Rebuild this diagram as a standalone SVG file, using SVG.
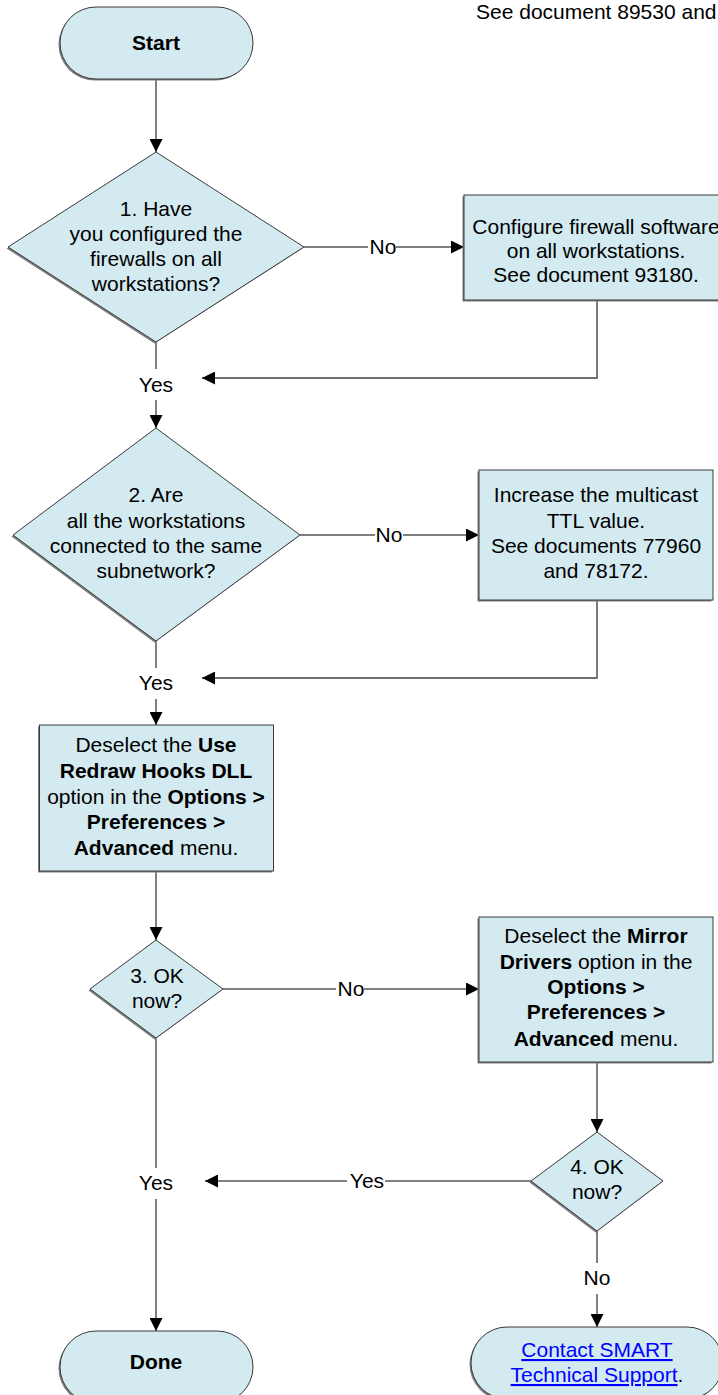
<svg xmlns="http://www.w3.org/2000/svg" width="718" height="1395" viewBox="0 0 718 1395">
<style>
text{font-family:"Liberation Sans",Arial,Helvetica,sans-serif;font-size:21px;fill:#000;text-anchor:middle}
.b{font-weight:bold}
.shape{fill:#D3EAF0;stroke:#3a3a3a;stroke-width:1}
.sh{fill:#7f7f7f;stroke:none}
.ln{fill:none;stroke:#000;stroke-width:1}
.ret{fill:none;stroke:#6f6f6f;stroke-width:1.8}
.gap{fill:#fff;stroke:none}
.link{fill:#0000ff;text-decoration:underline}
</style>
<defs>
<marker id="ah" markerWidth="13" markerHeight="13" refX="13" refY="6.5" orient="auto" markerUnits="userSpaceOnUse">
<path d="M0,0 L13,6.5 L0,13 z" fill="#000"/>
</marker>
</defs>

<text x="476" y="19" style="text-anchor:start">See document 89530 and</text>

<g id="connectors">
<path class="ln" d="M156,79 V152" marker-end="url(#ah)"/>
<path class="ln" d="M304,247 H464" marker-end="url(#ah)"/>
<path class="ret" d="M597,300 V378 H202" marker-end="url(#ah)"/>
<path class="ln" d="M156,342 V428" marker-end="url(#ah)"/>
<path class="ln" d="M300,535 H479" marker-end="url(#ah)"/>
<path class="ret" d="M597,600 V678 H202" marker-end="url(#ah)"/>
<path class="ln" d="M156,641 V725" marker-end="url(#ah)"/>
<path class="ln" d="M156,871 V940" marker-end="url(#ah)"/>
<path class="ln" d="M223,989 H479" marker-end="url(#ah)"/>
<path class="ln" d="M597,1062 V1132" marker-end="url(#ah)"/>
<path class="ln" d="M531,1181 H205" marker-end="url(#ah)"/>
<path class="ln" d="M156,1038 V1331" marker-end="url(#ah)"/>
<path class="ln" d="M597,1231 V1327" marker-end="url(#ah)"/>
<rect class="gap" x="368" y="237" width="28" height="20"/>
<text x="383" y="254">No</text>
<rect class="gap" x="375" y="525" width="28" height="20"/>
<text x="389" y="542">No</text>
<rect class="gap" x="336" y="979" width="28" height="20"/>
<text x="351" y="996">No</text>
<rect class="gap" x="347" y="1171" width="38" height="20"/>
<text x="367" y="1188">Yes</text>
<rect class="gap" x="136" y="369" width="40" height="31"/>
<text x="156" y="392">Yes</text>
<rect class="gap" x="136" y="668" width="40" height="31"/>
<text x="156" y="690">Yes</text>
<rect class="gap" x="136" y="1168" width="40" height="31"/>
<text x="156" y="1190">Yes</text>
<rect class="gap" x="580" y="1263" width="34" height="31"/>
<text x="597" y="1285">No</text>
</g>

<g id="start">
<rect class="sh" x="58.5" y="8.5" width="193" height="72" rx="36"/>
<rect class="shape" x="60" y="7" width="193" height="72" rx="36"/>
<text class="b" x="156" y="50">Start</text>
</g>

<g id="q1">
<polygon class="sh" points="154.5,153.5 302.5,248.5 154.5,343.5 6.5,248.5"/>
<polygon class="shape" points="156,152 304,247 156,342 8,247"/>
<text x="156" y="216">1. Have</text>
<text x="156" y="241">you configured the</text>
<text x="156" y="266">firewalls on all</text>
<text x="156" y="291">workstations?</text>
</g>

<g id="fw">
<rect class="sh" x="462.5" y="196.5" width="264" height="105"/>
<rect class="shape" x="464" y="195" width="264" height="105"/>
<text x="596" y="234">Configure firewall software</text>
<text x="596" y="258">on all workstations.</text>
<text x="596" y="282">See document 93180.</text>
</g>

<g id="q2">
<polygon class="sh" points="154.5,429.5 298.5,536.5 154.5,642.5 11.5,536.5"/>
<polygon class="shape" points="156,428 300,535 156,641 13,535"/>
<text x="156" y="502">2. Are</text>
<text x="156" y="528">all the workstations</text>
<text x="156" y="553">connected to the same</text>
<text x="156" y="578">subnetwork?</text>
</g>

<g id="ttl">
<rect class="sh" x="477.5" y="471.5" width="234" height="130"/>
<rect class="shape" x="479" y="470" width="234" height="130"/>
<text x="596" y="502">Increase the multicast</text>
<text x="596" y="528">TTL value.</text>
<text x="596" y="553">See documents 77960</text>
<text x="596" y="578">and 78172.</text>
</g>

<g id="hooks">
<rect class="sh" x="38" y="726.5" width="234" height="146"/>
<rect class="shape" x="39.5" y="725" width="234" height="146"/>
<text x="156" y="752">Deselect the <tspan class="b">Use</tspan></text>
<text x="156" y="778" class="b">Redraw Hooks DLL</text>
<text x="156" y="804">option in the <tspan class="b">Options &gt;</tspan></text>
<text x="156" y="829" class="b">Preferences &gt;</text>
<text x="156" y="855"><tspan class="b">Advanced</tspan> menu.</text>
</g>

<g id="q3">
<polygon class="sh" points="154.5,941.5 221.5,990.5 154.5,1039.5 88.5,990.5"/>
<polygon class="shape" points="156,940 223,989 156,1038 90,989"/>
<text x="157" y="983">3. OK</text>
<text x="157" y="1008">now?</text>
</g>

<g id="mirror">
<rect class="sh" x="477.5" y="918.5" width="234" height="145"/>
<rect class="shape" x="479" y="917" width="234" height="145"/>
<text x="596" y="943">Deselect the <tspan class="b">Mirror</tspan></text>
<text x="596" y="969"><tspan class="b">Drivers</tspan> option in the</text>
<text x="596" y="994" class="b">Options &gt;</text>
<text x="596" y="1019" class="b">Preferences &gt;</text>
<text x="596" y="1046"><tspan class="b">Advanced</tspan> menu.</text>
</g>

<g id="q4">
<polygon class="sh" points="595.5,1133.5 661.5,1182.5 595.5,1232.5 529.5,1182.5"/>
<polygon class="shape" points="597,1132 663,1181 597,1231 531,1181"/>
<text x="597" y="1174">4. OK</text>
<text x="597" y="1199">now?</text>
</g>

<g id="done">
<rect class="sh" x="58.5" y="1332.5" width="193" height="72" rx="36"/>
<rect class="shape" x="60" y="1331" width="193" height="72" rx="36"/>
<text class="b" x="156" y="1369">Done</text>
</g>

<g id="support">
<rect class="sh" x="469.5" y="1328.5" width="252" height="72" rx="36"/>
<rect class="shape" x="471" y="1327" width="252" height="72" rx="36"/>
<text x="597" y="1357" class="link">Contact SMART</text>
<text x="597" y="1382"><tspan class="link">Technical Support</tspan>.</text>
</g>
</svg>
